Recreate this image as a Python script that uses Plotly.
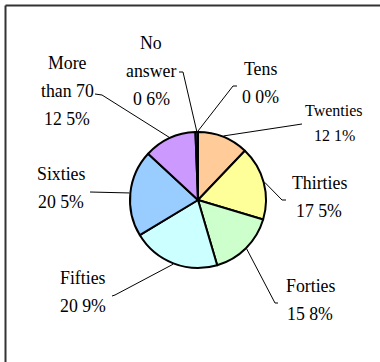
import math
import plotly.graph_objects as go

# Age groups of respondents (share of answers, %)
categories = ["Tens", "Twenties", "Thirties", "Forties", "Fifties",
              "Sixties", "More than 70", "No answer"]
shares = [0.0, 12.1, 17.5, 15.8, 20.9, 20.5, 12.5, 0.6]
colors = ["#FF9966", "#FFCC99", "#FFFF99", "#CCFFCC", "#CCFFFF",
          "#99CCFF", "#CC99FF", "#333366"]

W, H = 380, 362
CX, CY, R = 198, 200, 68  # pie centre and radius in pixels
FONT = "Times New Roman, Liberation Serif, serif"


def px(x):
    return x / W


def py(y):
    return 1 - y / H


# label block per category: text lines, centre x, first-line y, line step, font size
label_layout = {
    "Tens": (["Tens"], 260, 69, 28, 17.8),
    "Twenties": (["Twenties"], 334, 111, 24, 16),
    "Thirties": (["Thirties"], 319, 183, 28, 17.8),
    "Forties": (["Forties"], 310, 286, 28, 17.8),
    "Fifties": (["Fifties"], 83, 278, 28, 17.8),
    "Sixties": (["Sixties"], 61, 174, 28, 17.8),
    "More than 70": (["More", "than 70"], 67, 63, 28, 17.8),
    "No answer": (["No", "answer"], 151, 43, 28, 17.8),
}
# leader line elbow and tick end per category
leader_layout = {
    "Tens": [(233, 86), (237, 86)],
    "Twenties": [(302, 124)],
    "Thirties": [(282, 200), (286, 200)],
    "Forties": [(275, 303), (278, 303)],
    "Fifties": [(115, 295), (112, 296)],
    "Sixties": [(90, 192)],
    "More than 70": [(102, 95), (95, 94)],
    "No answer": [(183, 72), (179, 72)],
}

fig = go.Figure(go.Pie(
    labels=categories,
    values=shares,
    sort=False,
    direction="clockwise",
    rotation=0,
    textinfo="none",
    hoverinfo="label+percent",
    marker=dict(colors=colors, line=dict(color="#000000", width=2)),
    domain=dict(x=[px(CX - R), px(CX + R)], y=[py(CY + R), py(CY - R)]),
    showlegend=False,
))

annotations = []
# chart area frame: left and top edges only
shapes = [dict(type="line", xref="paper", yref="paper",
               x0=px(5.5), y0=0, x1=px(5.5), y1=py(5.5),
               line=dict(color="#333333", width=2)),
          dict(type="line", xref="paper", yref="paper",
               x0=px(5.5), y0=py(5.5), x1=1, y1=py(5.5),
               line=dict(color="#333333", width=2))]

total = sum(shares)
cum = 0.0
for cat, val in zip(categories, shares):
    mid = (cum + val / 2) / total * 2 * math.pi
    cum += val
    lines, lx, ly, step, fs = label_layout[cat]
    value_text = f"{val:.1f}%".replace(".", " ")
    for i, t in enumerate(lines + [value_text]):
        annotations.append(dict(
            x=px(lx), y=py(ly + i * step), xref="paper", yref="paper",
            text=t, showarrow=False, xanchor="center", yanchor="middle",
            font=dict(family=FONT, size=fs, color="#000000")))
    pts = [(CX + (R + 1) * math.sin(mid), CY - (R + 1) * math.cos(mid))]
    pts += leader_layout[cat]
    path = "M " + " L ".join(f"{px(x)},{py(y)}" for x, y in pts)
    shapes.append(dict(type="path", xref="paper", yref="paper", path=path,
                       line=dict(color="#000000", width=1)))

fig.update_layout(
    width=W, height=H,
    margin=dict(l=0, r=0, t=0, b=0),
    paper_bgcolor="#FFFFFF",
    plot_bgcolor="#FFFFFF",
    font=dict(family=FONT),
    annotations=annotations,
    shapes=shapes,
)

fig.write_html("out.html")
